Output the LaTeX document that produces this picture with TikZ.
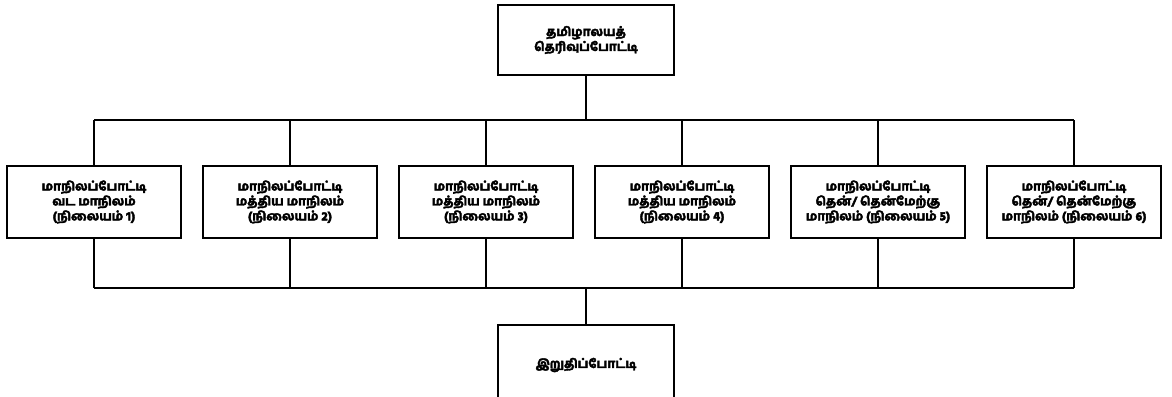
\documentclass[tikz,border=0pt]{standalone}
\usepackage{fontspec}
\newfontfamily\tamil[Script=Tamil,FakeBold=3]{Hind Madurai Bold}
\usetikzlibrary{positioning}
\tikzset{node distance=3.92cm,
  box/.style={draw, line width=1.6pt, minimum width=3.48cm, minimum height=1.44cm,
    align=center, font=\tamil\fontsize{7}{8.5}\selectfont},
  link/.style={line width=0.6pt}}

\begin{document}
\begin{tikzpicture}
  \useasboundingbox (0,0) rectangle (23.44,7.94);

  \node[box, minimum width=3.52cm, minimum height=1.4cm] (T) at (11.72,7.14) {தமிழாலயத்\\தெரிவுப்போட்டி};

  \node[box] (S1) at (1.88,3.9) {மாநிலப்போட்டி\\வட மாநிலம்\\(நிலையம் 1)};
  \node[box] (S2) [right of=S1] {மாநிலப்போட்டி\\மத்திய மாநிலம்\\(நிலையம் 2)};
  \node[box] (S3) [right of=S2] {மாநிலப்போட்டி\\மத்திய மாநிலம்\\(நிலையம் 3)};
  \node[box] (S4) [right of=S3] {மாநிலப்போட்டி\\மத்திய மாநிலம்\\(நிலையம் 4)};
  \node[box] (S5) [right of=S4] {மாநிலப்போட்டி\\தென்/ தென்மேற்கு\\மாநிலம் (நிலையம் 5)};
  \node[box] (S6) [right of=S5] {மாநிலப்போட்டி\\தென்/ தென்மேற்கு\\மாநிலம் (நிலையம் 6)};

  \node[box, minimum width=3.52cm, minimum height=1.6cm] (F) at (11.72,0.64) {இறுதிப்போட்டி};

  \coordinate (busT) at (0,5.54);
  \coordinate (busB) at (0,2.18);

  \draw[link] (T) -- (T |- busT);
  \draw[link] (S1 |- busT) -- (S6 |- busT);
  \draw[link] (S1 |- busB) -- (S6 |- busB);
  \draw[link] (F) -- (F |- busB);
  \foreach \n in {S1,S2,S3,S4,S5,S6} {
    \draw[link] (\n) -- (\n |- busT);
    \draw[link] (\n) -- (\n |- busB);
  }
\end{tikzpicture}
\end{document}
